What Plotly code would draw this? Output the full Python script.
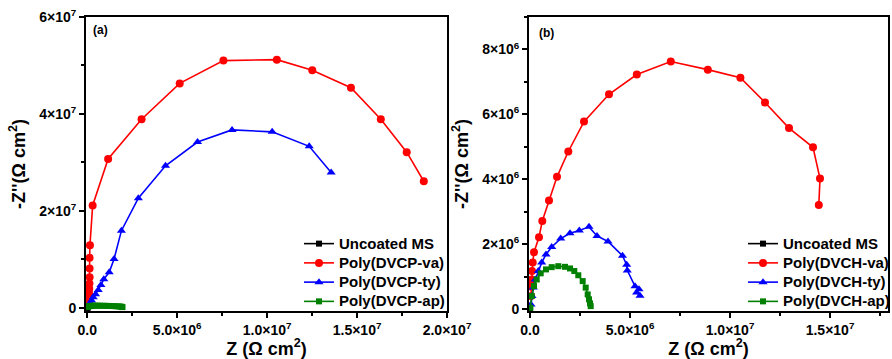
import plotly.graph_objects as go

# ---------------- Panel (a) data ----------------
a_black_x = [500, 900, 1300, 1700]
a_black_y = [300, 600, 800, 700]

a_red_x = [5e4, 7e4, 8e4, 9e4, 1.0e5, 1.1e5, 1.2e5, 1.3e5, 1.3e5, 1.3e5, 1.5e5, 3.0e5,
           1.16e6, 3.02e6, 5.14e6, 7.57e6, 1.054e7, 1.251e7, 1.466e7, 1.632e7, 1.776e7, 1.871e7]
a_red_y = [4e5, 9e5, 1.5e6, 2.2e6, 3.0e6, 3.9e6, 5.0e6, 6.3e6, 8.1e6, 1.03e7, 1.29e7, 2.11e7,
           3.07e7, 3.89e7, 4.63e7, 5.10e7, 5.12e7, 4.90e7, 4.54e7, 3.89e7, 3.21e7, 2.61e7]

a_blue_x = [5e4, 1.5e5, 2.4e5, 3.3e5, 4.6e5, 6.1e5, 7.6e5, 9.2e5, 1.22e6, 1.49e6, 1.90e6, 2.84e6,
            4.35e6, 6.13e6, 8.05e6, 1.028e7, 1.234e7, 1.356e7]
a_blue_y = [2e5, 9e5, 1.5e6, 2.15e6, 2.77e6, 3.66e6, 4.69e6, 5.87e6, 7.31e6, 1.006e7, 1.59e7, 2.26e7,
            2.93e7, 3.42e7, 3.67e7, 3.63e7, 3.33e7, 2.79e7]

a_green_x = [2e4, 5e4, 1e5, 1.6e5, 2.4e5, 3.3e5, 4.4e5, 5.6e5, 7e5, 8.5e5, 1.0e6, 1.15e6,
             1.3e6, 1.45e6, 1.6e6, 1.75e6, 1.85e6, 1.92e6, 1.96e6]
a_green_y = [1.5e5, 2.5e5, 3.2e5, 3.6e5, 3.9e5, 4.1e5, 4.2e5, 4.2e5, 4.1e5, 4.0e5, 3.9e5, 3.7e5,
             3.5e5, 3.3e5, 3.0e5, 2.7e5, 2.3e5, 1.8e5, 1.2e5]

# ---------------- Panel (b) data ----------------
b_black_x = [500, 900, 1300, 1700]
b_black_y = [300, 600, 800, 700]

b_red_x = [5e4, 6.5e4, 8.5e4, 1.0e5, 1.35e5, 2.0e5, 4.5e5, 6.15e5, 9.5e5, 1.35e6, 1.915e6, 2.70e6,
           3.95e6, 5.34e6, 7.04e6, 8.89e6, 1.052e7, 1.175e7, 1.295e7, 1.415e7, 1.45e7, 1.444e7]
b_red_y = [4.1e5, 7.0e5, 9.2e5, 1.18e6, 1.44e6, 1.76e6, 2.22e6, 2.72e6, 3.35e6, 4.08e6, 4.86e6, 5.78e6,
           6.62e6, 7.23e6, 7.63e6, 7.38e6, 7.13e6, 6.37e6, 5.58e6, 4.99e6, 4.03e6, 3.21e6]

b_blue_x = [5e4, 1.0e5, 1.65e5, 2.65e5, 4.15e5, 5.85e5, 8.0e5, 1.085e6, 1.535e6, 2.0e6, 2.465e6, 2.95e6,
            3.35e6, 3.90e6, 4.625e6, 4.835e6, 4.865e6, 5.25e6, 5.45e6, 5.33e6, 5.5e6]
b_blue_y = [1.5e5, 4.1e5, 6.7e5, 9.2e5, 1.18e6, 1.44e6, 1.69e6, 1.92e6, 2.18e6, 2.34e6, 2.43e6, 2.54e6,
            2.26e6, 2.09e6, 1.65e6, 1.37e6, 1.20e6, 7.1e5, 6.2e5, 5.2e5, 4.2e5]

b_green_x = [2e4, 8.5e4, 2.0e5, 3.35e5, 5.35e5, 8.0e5, 1.085e6, 1.415e6, 1.75e6, 2.0e6, 2.215e6,
             2.415e6, 2.635e6, 2.785e6, 2.885e6, 2.95e6, 3.0e6, 3.035e6]
b_green_y = [5e4, 4.1e5, 7.2e5, 9.2e5, 1.11e6, 1.23e6, 1.30e6, 1.33e6, 1.31e6, 1.26e6, 1.18e6,
             1.05e6, 8.7e5, 6.7e5, 4.6e5, 3.1e5, 1.85e5, 1.0e5]

names_a = ["Uncoated MS", "Poly(DVCP-va)", "Poly(DVCP-ty)", "Poly(DVCP-ap)"]
names_b = ["Uncoated MS", "Poly(DVCH-va)", "Poly(DVCH-ty)", "Poly(DVCH-ap)"]

a_xticks = [0, 5e6, 1e7, 1.5e7, 2e7]
a_xtext = ["0.0", "5.0×10<sup>6</sup>", "1.0×10<sup>7</sup>", "1.5×10<sup>7</sup>", "2.0×10<sup>7</sup>"]
a_yticks = [0, 2e7, 4e7, 6e7]
a_ytext = ["0", "2×10<sup>7</sup>", "4×10<sup>7</sup>", "6×10<sup>7</sup>"]
b_xticks = [0, 5e6, 1e7, 1.5e7]
b_xtext = ["0.0", "5.0×10<sup>6</sup>", "1.0×10<sup>7</sup>", "1.5×10<sup>7</sup>"]
b_yticks = [0, 2e6, 4e6, 6e6, 8e6]
b_ytext = ["0", "2×10<sup>6</sup>", "4×10<sup>6</sup>", "6×10<sup>6</sup>", "8×10<sup>6</sup>"]

colors = ["#000000", "#FF0000", "#0000FF", "#008000"]
symbols = ["square", "circle", "triangle-up", "square"]
msizes = [6, 8, 8, 6]

FONT = "Arial, Liberation Sans, sans-serif"

fig = go.Figure()

def add_series(xs, ys, names, xa, ya, leg):
    for i, (x, y) in enumerate(zip(xs, ys)):
        fig.add_trace(go.Scatter(
            x=x, y=y, name='<span style="font-size:15px">' + names[i] + '</span>',
            mode="lines+markers",
            line=dict(color=colors[i], width=1.6),
            marker=dict(color=colors[i], symbol=symbols[i], size=msizes[i]),
            xaxis=xa, yaxis=ya, legend=leg))

add_series([a_black_x, a_red_x, a_blue_x, a_green_x],
           [a_black_y, a_red_y, a_blue_y, a_green_y], names_a, "x", "y", "legend")
add_series([b_black_x, b_red_x, b_blue_x, b_green_x],
           [b_black_y, b_red_y, b_blue_y, b_green_y], names_b, "x2", "y2", "legend2")

W, H = 892, 359
L, R, T, B = 86, 888, 17, 311   # plot-area pixel box
PW, PH = R - L, B - T

def px(xp):
    return (xp - L) / PW

def py(yp):
    return (B - yp) / PH

tickfont = dict(family=FONT, size=14, color="black", weight="bold")
titlefont = dict(family=FONT, size=18, color="black", weight="bold")

def axis(dom, rng, tv, tt, minor_dtick, anchor, title, standoff):
    return dict(domain=dom, range=rng, tickvals=tv, ticktext=tt, anchor=anchor,
                automargin=False,
                showgrid=False, zeroline=False, showline=True, linecolor="black", linewidth=1.8,
                mirror=True, ticks="outside", ticklen=5, tickwidth=1.5, tickcolor="black",
                minor=dict(ticks="outside", dtick=minor_dtick, ticklen=3, tickwidth=1.5,
                           tickcolor="black", showgrid=False),
                tickfont=tickfont, title=dict(text=title, font=titlefont, standoff=standoff))

xtitle = "Z (Ω cm<sup>2</sup>)"
ytitle = "-Z''(Ω cm<sup>2</sup>)"

legfont = dict(family=FONT, size=12.5, color="black", weight="bold")

fig.update_layout(
    width=W, height=H, margin=dict(l=L, r=W - R, t=T, b=H - B, pad=0, autoexpand=False),
    paper_bgcolor="white", plot_bgcolor="white",
    showlegend=True,
    xaxis=axis([0, px(447)], [-7e4, 2.0e7], a_xticks, a_xtext, 2.5e6, "y", xtitle, 0),
    yaxis=axis([0, 1], [-6.8e5, 6.0e7], a_yticks, a_ytext, 1e7, "x", ytitle, 9),
    xaxis2=axis([px(529), 1], [-5e4, 1.79e7], b_xticks, b_xtext, 2.5e6, "y2", xtitle, 0),
    yaxis2=axis([0, 1], [-5e4, 9.0e6], b_yticks, b_ytext, 1e6, "x2", ytitle, 9),
    legend=dict(x=px(299), y=py(229), xanchor="left", yanchor="top",
                bgcolor="rgba(0,0,0,0)", borderwidth=0, tracegroupgap=0, font=legfont),
    legend2=dict(x=px(743), y=py(229), xanchor="left", yanchor="top",
                 bgcolor="rgba(0,0,0,0)", borderwidth=0, tracegroupgap=0, font=legfont),
    annotations=[
        dict(text="(a)", x=px(91), y=py(30), xref="paper", yref="paper",
             xanchor="left", yanchor="middle", showarrow=False,
             font=dict(family=FONT, size=12, color="black", weight="bold")),
        dict(text="(b)", x=px(537), y=py(33), xref="paper", yref="paper",
             xanchor="left", yanchor="middle", showarrow=False,
             font=dict(family=FONT, size=12, color="black", weight="bold")),
    ],
)

fig.write_html("out.html", config={"displayModeBar": False},
               post_script="document.body.style.margin='0';document.body.style.overflow='hidden';")
